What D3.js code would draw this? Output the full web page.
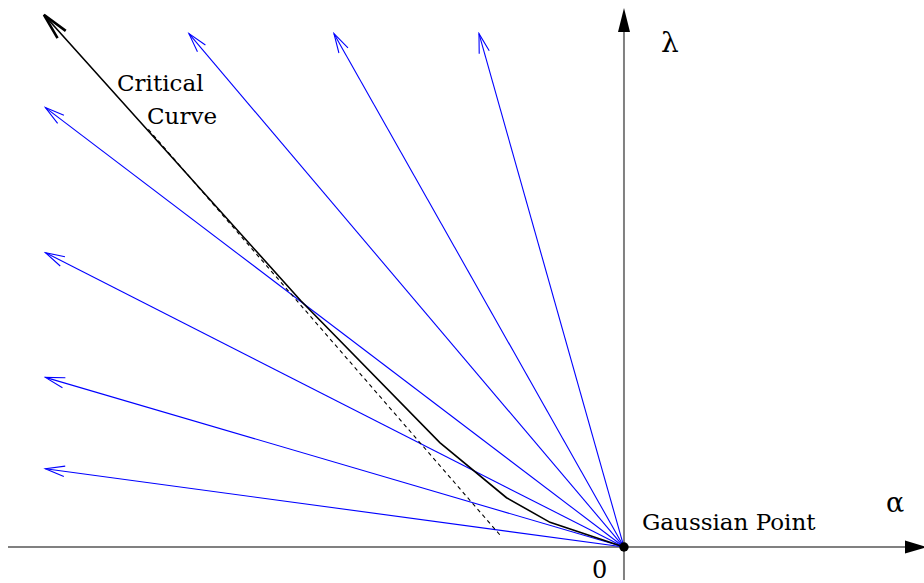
<!DOCTYPE html>
<html>
<head>
<meta charset="utf-8">
<script src="https://cdn.jsdelivr.net/npm/d3@7/dist/d3.min.js"></script>
<style>
  body { margin: 0; background: #fff; }
</style>
</head>
<body>
<svg id="chart" width="924" height="583"></svg>
<script>
// ray end points (alpha, lambda), all rays leave the Gaussian point
const rayEnds = [[-3, 3.54], [-2, 3.54], [-1, 3.54], [-3.99, 3.03], [-3.99, 2.03], [-3.99, 1.17], [-3.99, 0.54]];
// critical curve from the Gaussian point outward
const criticalCurve = [[0, 0], [-0.51, 0.17], [-0.81, 0.34], [-1.27, 0.72], [-2.23, 1.70], [-4.0, 3.67]];
// dashed asymptote
const asymptote = [[-3.28, 2.88], [-0.855, 0.083]];
const gaussianPoint = [0, 0];

const svgWidth = 924, svgHeight = 583;
const serif = '"DejaVu Serif", "Liberation Serif", "Noto Serif", serif';
const svg = d3.select('#chart');

const xScale = d3.scaleLinear().domain([-4.303, 2.069]).range([0, svgWidth]);
const yScale = d3.scaleLinear().domain([-0.248, 3.772]).range([svgHeight, 0]);

const line = d3.line()
    .x(d => xScale(d[0]))
    .y(d => yScale(d[1]));

const defs = svg.append('defs');
defs.append('marker')
    .attr('id', 'blueHead')
    .attr('markerUnits', 'userSpaceOnUse')
    .attr('viewBox', '-22 -8 24 16')
    .attr('markerWidth', 24).attr('markerHeight', 16)
    .attr('refX', 0).attr('refY', 0)
    .attr('orient', 'auto')
    .append('path')
    .attr('d', 'M-19.3,-5.2L0,0L-19.3,5.2')
    .attr('fill', 'none')
    .attr('stroke', '#0000ff')
    .attr('stroke-width', 1.1);

defs.append('marker')
    .attr('id', 'blackHead')
    .attr('markerUnits', 'userSpaceOnUse')
    .attr('viewBox', '-30 -8 32 16')
    .attr('markerWidth', 32).attr('markerHeight', 16)
    .attr('refX', 0).attr('refY', 0)
    .attr('orient', 'auto')
    .append('path')
    .attr('d', 'M-26.5,-5.5L0,0L-26.5,5.5')
    .attr('fill', 'none')
    .attr('stroke', '#000')
    .attr('stroke-width', 2.6);

// axes
const ox = xScale(gaussianPoint[0]), oy = yScale(gaussianPoint[1]);
svg.append('line')
    .attr('x1', 8).attr('y1', oy)
    .attr('x2', svgWidth - 10).attr('y2', oy)
    .attr('stroke', '#808080').attr('stroke-width', 2);
svg.append('line')
    .attr('x1', ox).attr('y1', svgHeight - 3)
    .attr('x2', ox).attr('y2', 26)
    .attr('stroke', '#808080').attr('stroke-width', 2);
svg.append('path')
    .attr('d', `M${ox},8L${ox - 6},32L${ox + 6},32Z`)
    .attr('fill', '#000');
svg.append('path')
    .attr('d', `M${svgWidth + 3},${oy}L${svgWidth - 19},${oy - 6.5}L${svgWidth - 19},${oy + 6.5}Z`)
    .attr('fill', '#000');

// blue rays
svg.selectAll('.ray')
    .data(rayEnds)
    .join('line')
    .attr('class', 'ray')
    .attr('x1', ox).attr('y1', oy)
    .attr('x2', d => xScale(d[0]))
    .attr('y2', d => yScale(d[1]))
    .attr('stroke', '#0000ff')
    .attr('stroke-width', 1.1)
    .attr('marker-end', 'url(#blueHead)');

// dashed asymptote
svg.append('path')
    .datum(asymptote)
    .attr('d', line)
    .attr('fill', 'none')
    .attr('stroke', '#000')
    .attr('stroke-width', 1.1)
    .attr('stroke-dasharray', '4,3.5');

// critical curve
svg.append('path')
    .datum(criticalCurve)
    .attr('d', line)
    .attr('fill', 'none')
    .attr('stroke', '#000')
    .attr('stroke-width', 1.6)
    .attr('marker-end', 'url(#blackHead)');

// gaussian point
svg.append('circle')
    .attr('cx', ox).attr('cy', oy)
    .attr('r', 4.7)
    .attr('fill', '#000');

// labels
const labels = [
    {t: 'Critical', x: 117, y: 91, s: 23},
    {t: 'Curve', x: 147, y: 124, s: 23},
    {t: 'λ', x: 661, y: 52, s: 28},
    {t: 'α', x: 886, y: 512, s: 27},
    {t: 'Gaussian Point', x: 642, y: 530, s: 23},
    {t: '0', x: 592, y: 578, s: 24}
];
svg.selectAll('.lbl')
    .data(labels)
    .join('text')
    .attr('class', 'lbl')
    .attr('x', d => d.x)
    .attr('y', d => d.y)
    .attr('font-family', serif)
    .attr('font-size', d => d.s)
    .attr('fill', '#000')
    .text(d => d.t);
</script>
</body>
</html>
